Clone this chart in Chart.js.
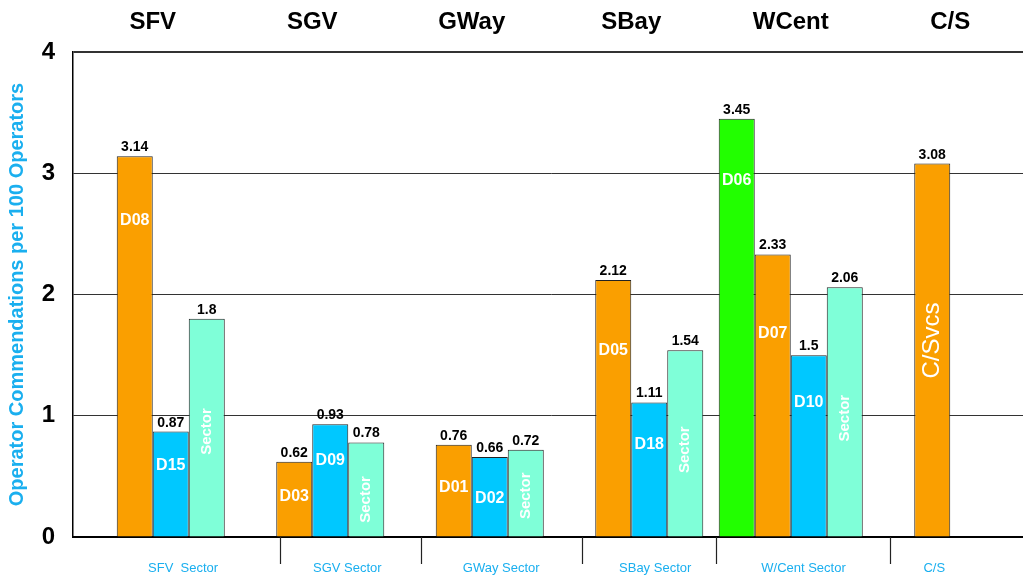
<!DOCTYPE html>
<html><head><meta charset="utf-8">
<script src="https://cdn.jsdelivr.net/npm/chart.js@4.4.1/dist/chart.umd.min.js"></script>
<style>html,body{margin:0;padding:0;overflow:hidden;background:#fff}
#wrap{position:relative;width:1030px;height:579px}</style>
</head><body><div id="wrap"><canvas id="c" width="1030" height="579"></canvas></div>
<script>
// ---- data ----
const groups = ['SFV', 'SGV', 'GWay', 'SBay', 'WCent', 'C/S'];
const greenValues  = [null, null, null, null, 3.45, null];
const orangeValues = [3.14, 0.62, 0.76, 2.12, 2.33, 3.08];
const blueValues   = [0.87, 0.93, 0.66, 1.11, 1.5, null];
const aquaValues   = [1.8, 0.78, 0.72, 1.54, 2.06, null];

const greenNames  = [null, null, null, null, 'D06', null];
const orangeNames = ['D08', 'D03', 'D01', 'D05', 'D07', 'C/Svcs'];
const blueNames   = ['D15', 'D09', 'D02', 'D18', 'D10', null];
const aquaNames   = ['Sector', 'Sector', 'Sector', 'Sector', 'Sector', null];

// where the in-bar names sit (value units)
const greenNameAt  = [null, null, null, null, 2.94, null];
const orangeNameAt = [2.61, 0.33, 0.41, 1.54, 1.68, 1.62];
const blueNameAt   = [0.59, 0.63, 0.32, 0.76, 1.11, null];
const aquaNameAt   = [0.87, 0.31, 0.34, 0.72, 0.98, null];

const yTicks = [0, 1, 2, 3, 4];
const yTitle = 'Operator Commendations per 100 Operators';
const sectorLabels = ['SFV  Sector', 'SGV Sector', 'GWay Sector', 'SBay Sector', 'W/Cent Sector', 'C/S'];
// positions along the category axis (index units)
const sectorLabelAt = [0.19, 1.22, 2.185, 3.15, 4.08, 4.90];
const separatorAt = [0.80, 1.68, 2.69, 3.53, 4.62];

const FAM = '"Liberation Sans", Arial, Helvetica, sans-serif';
const CYAN = '#1AAFEF';

const labelPlugin = {
  id: 'customLabels',
  afterDatasetsDraw(chart) {
    const ctx = chart.ctx;
    const ys = chart.scales.y;
    chart.data.datasets.forEach((ds, di) => {
      const meta = chart.getDatasetMeta(di);
      meta.data.forEach((bar, i) => {
        const v = ds.data[i];
        if (v == null) return;
        ctx.save();
        ctx.fillStyle = '#000';
        ctx.font = 'bold 14px ' + FAM;
        ctx.textAlign = 'center';
        ctx.textBaseline = 'alphabetic';
        ctx.fillText(String(v), bar.x, bar.y - 5);
        const name = ds.names[i];
        const at = ds.nameAt[i];
        if (name) {
          const py = ys.getPixelForValue(at);
          ctx.fillStyle = '#fff';
          ctx.textBaseline = 'middle';
          if (name === 'Sector' || name === 'C/Svcs') {
            ctx.translate(bar.x, py);
            ctx.rotate(-Math.PI / 2);
            ctx.font = name === 'Sector' ? 'bold 15px ' + FAM : '24px ' + FAM;
            ctx.fillText(name, 0, 0);
          } else {
            ctx.font = 'bold 16px ' + FAM;
            ctx.fillText(name, bar.x, py);
          }
        }
        ctx.restore();
      });
    });
  },
  afterDraw(chart) {
    const ctx = chart.ctx;
    const xs = chart.scales.x;
    const area = chart.chartArea;
    ctx.save();
    // group headers
    ctx.fillStyle = '#000';
    ctx.font = 'bold 24px ' + FAM;
    ctx.textAlign = 'center';
    ctx.textBaseline = 'alphabetic';
    groups.forEach((g, k) => ctx.fillText(g, xs.getPixelForValue(k), 29));
    // separators
    ctx.strokeStyle = '#222';
    ctx.lineWidth = 1.2;
    separatorAt.forEach(p => {
      const px = Math.round(xs.getPixelForValue(p)) + 0.5;
      ctx.beginPath();
      ctx.moveTo(px, area.bottom);
      ctx.lineTo(px, area.bottom + 27);
      ctx.stroke();
    });
    // sector labels
    ctx.fillStyle = CYAN;
    ctx.font = '13px ' + FAM;
    sectorLabels.forEach((t, k) => ctx.fillText(t, xs.getPixelForValue(sectorLabelAt[k]), 572));
    ctx.restore();
  }
};

const common = { categoryPercentage: 0.903, barPercentage: 1, borderWidth: 1, borderColor: '#222' };

new Chart(document.getElementById('c'), {
  type: 'bar',
  data: {
    labels: groups,
    datasets: [
      Object.assign({ data: greenValues, backgroundColor: '#22FF00', names: greenNames, nameAt: greenNameAt }, common),
      Object.assign({ data: orangeValues, backgroundColor: '#FA9F00', names: orangeNames, nameAt: orangeNameAt }, common),
      Object.assign({ data: blueValues, backgroundColor: '#00C8FF', names: blueNames, nameAt: blueNameAt }, common),
      Object.assign({ data: aquaValues, backgroundColor: '#7FFFD8', names: aquaNames, nameAt: aquaNameAt }, common)
    ]
  },
  options: {
    responsive: false,
    animation: false,
    devicePixelRatio: 1,
    layout: { padding: { top: 52, left: 0, right: 0, bottom: 0 } },
    plugins: { legend: { display: false }, tooltip: { enabled: false } },
    scales: {
      x: {
        offset: true,
        grid: { display: false },
        border: { display: true, color: '#000', width: 2 },
        ticks: { display: false },
        afterFit(s) { s.height = 42; }
      },
      y: {
        min: 0, max: 4,
        afterBuildTicks(s) { s.ticks = yTicks.map(v => ({ value: v })); },
        ticks: { color: '#000', padding: 18, font: { family: FAM, size: 24, weight: 'bold' } },
        grid: {
          color: '#333',
          lineWidth: c => (c.tick && c.tick.value === 4 ? 2 : 1),
          drawTicks: false
        },
        border: { display: true, color: '#000', width: 1.5 },
        title: {
          display: true, text: yTitle, color: CYAN,
          font: { family: FAM, size: 20, weight: 'bold' },
          padding: { top: 5, bottom: 0 }
        },
        afterFit(s) { s.width = 73; }
      }
    }
  },
  plugins: [labelPlugin]
});
</script>
</body></html>
